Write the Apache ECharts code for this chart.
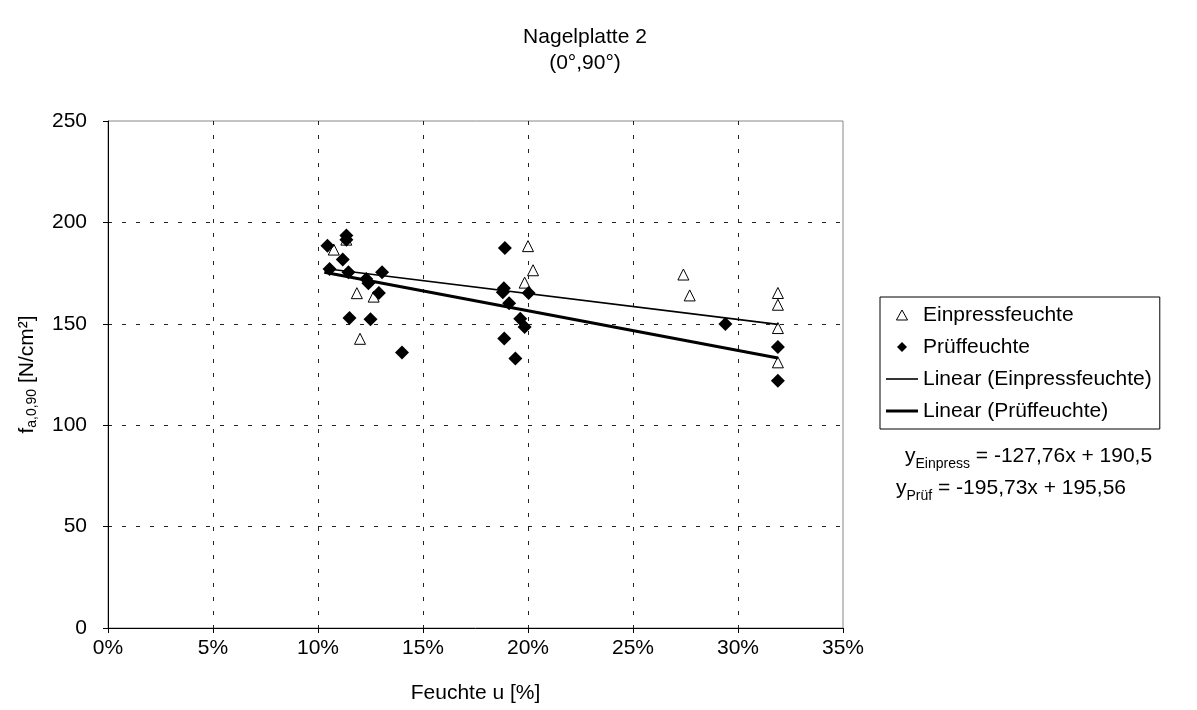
<!DOCTYPE html>
<html>
<head>
<meta charset="utf-8">
<script src="https://cdn.jsdelivr.net/npm/echarts@6/dist/echarts.min.js"></script>
<style>html,body{margin:0;padding:0;background:#fff;}#c{width:1197px;height:710px;}</style>
</head>
<body>
<div id="c"></div>
<script>
// Feuchte u [%] and f_a,0,90 [N/cm²]
const einpressX = [10.75, 11.35, 11.85, 12.65, 12.0, 20.0, 20.24, 19.84, 27.4, 27.7, 31.9, 31.9, 31.9, 31.9];
const einpressY = [186.6, 191.5, 165.1, 163.4, 142.6, 188.3, 176.4, 170.3, 174.3, 164.0, 165.2, 159.4, 147.9, 131.0];
const pruefX = [10.45, 11.35, 11.35, 11.18, 10.55, 11.45, 12.3, 12.4, 13.05, 12.9, 11.5, 12.5, 14.0, 18.9, 18.8, 18.85, 20.03, 19.1, 19.63, 19.84, 18.87, 19.4, 29.4, 31.9, 31.9];
const pruefY = [188.5, 193.5, 191.5, 181.7, 177.0, 175.4, 172.1, 170.0, 175.4, 165.2, 152.9, 152.3, 135.9, 187.4, 165.5, 167.5, 165.2, 160.1, 152.5, 148.4, 142.8, 132.9, 149.9, 138.5, 121.9];
const trendEinX = [10.7, 31.9];
const trendEinY = [176.8, 149.7];
const trendPruX = [10.3, 31.9];
const trendPruY = [175.4, 133.1];
const seriesNames = ['Einpressfeuchte', 'Prüffeuchte', 'Linear (Einpressfeuchte)', 'Linear (Prüffeuchte)'];
const titleLines = ['Nagelplatte 2', '(0°,90°)'];
const xTitle = 'Feuchte u [%]';
const eqEin = '-127,76x + 190,5';
const eqPru = '-195,73x + 195,56';

const pair = (xs, ys) => xs.map((x, i) => [x, ys[i]]);
const FF = '"Liberation Sans", Arial, sans-serif';
const FS = 21;
const subRich = (lh) => ({
  y: { fontSize: FS, fontFamily: FF, lineHeight: lh, verticalAlign: 'middle', color: '#000' },
  s: { fontSize: 14, fontFamily: FF, lineHeight: lh, verticalAlign: 'bottom', color: '#000' },
  t: { fontSize: FS, fontFamily: FF, lineHeight: lh, verticalAlign: 'middle', color: '#000' }
});
const chart = echarts.init(document.getElementById('c'));
chart.setOption({
  animation: false,
  backgroundColor: '#fff',
  textStyle: { fontFamily: FF, color: '#000' },
  grid: { left: 108, right: 354, top: 121, bottom: 82, show: true, borderColor: '#888', borderWidth: 1 },
  xAxis: {
    type: 'value', min: 0, max: 35, interval: 5,
    name: xTitle, nameLocation: 'middle', nameGap: 55,
    nameTextStyle: { fontSize: FS, color: '#000', fontFamily: FF },
    axisLine: { show: true, onZero: false, lineStyle: { color: '#000', width: 1 } },
    axisTick: { show: true, length: 5, lineStyle: { color: '#000' } },
    axisLabel: { formatter: '{value}%', fontSize: FS, color: '#000', margin: 10, fontFamily: FF },
    splitLine: { show: true, showMinLine: false, showMaxLine: false, lineStyle: { color: '#222', type: [4, 10], width: 1 } }
  },
  yAxis: {
    type: 'value', min: 0, max: 250, interval: 50,
    name: '{y|f}{s|a,0,90}{t| [N/cm²]}', nameLocation: 'middle', nameGap: 69, nameRotate: 90,
    nameMoveOverlap: false,
    nameTextStyle: { fontSize: FS, color: '#000', fontFamily: FF, rich: subRich(24) },
    axisLine: { show: true, onZero: false, lineStyle: { color: '#000', width: 1 } },
    axisTick: { show: true, length: 5, lineStyle: { color: '#000' } },
    axisLabel: { fontSize: FS, color: '#000', margin: 21, fontFamily: FF },
    splitLine: { show: true, showMinLine: false, showMaxLine: false, lineStyle: { color: '#222', type: [4, 10], width: 1 } }
  },
  legend: {
    orient: 'vertical', left: 880, top: 297,
    data: [
      { name: seriesNames[0], icon: 'path://M5,0 L10,9 L0,9 Z', itemStyle: { color: '#fff', borderColor: '#000', borderWidth: 1 } },
      { name: seriesNames[1], icon: 'path://M5,0 L10,5 L5,10 L0,5 Z', itemStyle: { color: '#000', borderWidth: 0 } },
      { name: seriesNames[2], icon: 'path://M0,0 L32,0 L32,1.6 L0,1.6 Z', itemStyle: { color: '#000', borderWidth: 0 } },
      { name: seriesNames[3], icon: 'path://M0,0 L32,0 L32,3 L0,3 Z', itemStyle: { color: '#000', borderWidth: 0 } }
    ],
    symbolKeepAspect: true,
    itemWidth: 32, itemHeight: 10, itemGap: 8,
    padding: [6, 8, 6, 6],
    borderColor: '#000', borderWidth: 1,
    textStyle: { fontSize: FS, color: '#000', fontFamily: FF, lineHeight: 24 }
  },
  graphic: [
    { type: 'text', x: 585, y: 50, silent: true,
      style: { text: titleLines.join('\n'), textAlign: 'center', textVerticalAlign: 'middle', font: FS + 'px ' + FF, lineHeight: 26, fill: '#000' } },
    { type: 'text', x: 905, y: 441, silent: true,
      style: { text: '{y|y}{s|Einpress}{t| = ' + eqEin + '}', fill: '#000', font: FS + 'px ' + FF, rich: subRich(30) } },
    { type: 'text', x: 896, y: 473, silent: true,
      style: { text: '{y|y}{s|Prüf}{t| = ' + eqPru + '}', fill: '#000', font: FS + 'px ' + FF, rich: subRich(30) } }
  ],
  series: [
    { name: seriesNames[0], type: 'scatter', symbol: 'triangle', symbolSize: 11, z: 3,
      itemStyle: { color: '#fff', borderColor: '#000', borderWidth: 1, opacity: 1 },
      data: pair(einpressX, einpressY) },
    { name: seriesNames[1], type: 'scatter', symbol: 'diamond', symbolSize: 14, z: 4,
      itemStyle: { color: '#000', borderColor: '#000', borderWidth: 0, opacity: 1 },
      data: pair(pruefX, pruefY) },
    { name: seriesNames[2], type: 'line', symbol: 'none', z: 5,
      lineStyle: { color: '#000', width: 1.6 }, itemStyle: { color: '#000' },
      data: pair(trendEinX, trendEinY) },
    { name: seriesNames[3], type: 'line', symbol: 'none', z: 5,
      lineStyle: { color: '#000', width: 3 }, itemStyle: { color: '#000' },
      data: pair(trendPruX, trendPruY) }
  ]
});
</script>
</body>
</html>
